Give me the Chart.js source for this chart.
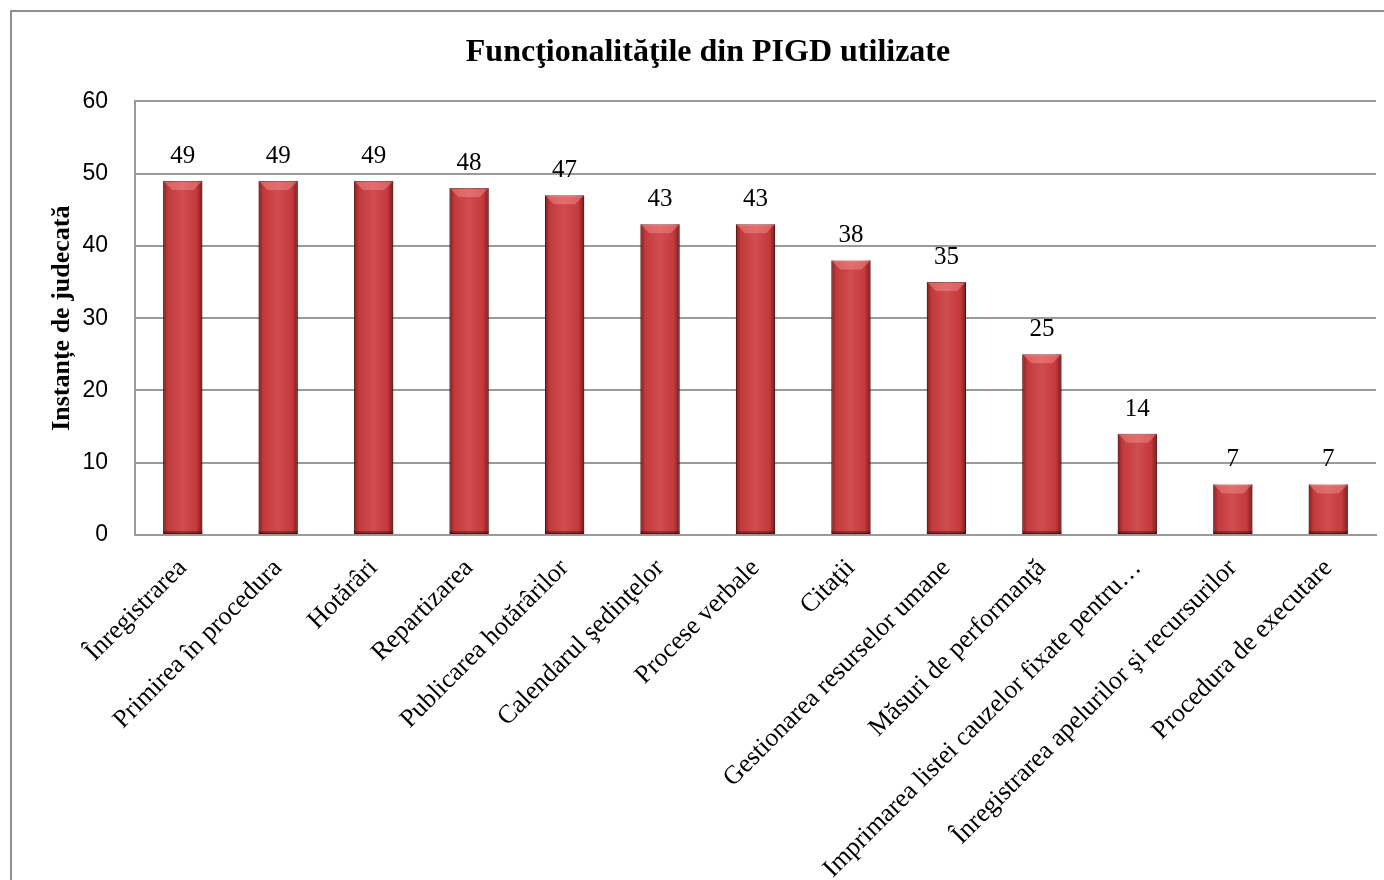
<!DOCTYPE html>
<html lang="ro">
<head>
<meta charset="UTF-8" />
<title>Funcţionalităţile din PIGD utilizate</title>
<style>
  html, body { margin: 0; padding: 0; background: #fff; overflow: hidden; }
  .wrap { position: relative; width: 1384px; height: 880px; }
  .frame {
    position: absolute; left: 10px; top: 10px;
    width: 1420px; height: 920px;
    border: 2px solid #8e8e8e;
  }
  canvas { position: absolute; left: 0; top: 0; }
</style>
</head>
<body>
<div class="wrap">
  <div class="frame"></div>
  <canvas id="chart" width="1384" height="880"></canvas>
</div>

<script src="https://cdn.jsdelivr.net/npm/chart.js"></script>
<script>
  // Data
  const chartTitle = 'Funcţionalităţile din PIGD utilizate';
  const axisTitle = 'Instanțe de judecată';
  const categories = [
    'Înregistrarea',
    'Primirea în procedura',
    'Hotărâri',
    'Repartizarea',
    'Publicarea hotărârilor',
    'Calendarul şedinţelor',
    'Procese verbale',
    'Citaţii',
    'Gestionarea resurselor umane',
    'Măsuri de performanţă',
    'Imprimarea listei cauzelor fixate pentru…',
    'Înregistrarea apelurilor şi recursurilor',
    'Procedura de executare'
  ];
  const counts = [49, 49, 49, 48, 47, 43, 43, 38, 35, 25, 14, 7, 7];
  const yTicks = [0, 10, 20, 30, 40, 50, 60];

  const serif = '"Liberation Serif", "Times New Roman", serif';
  const sans = '"Liberation Sans", Arial, sans-serif';

  // shading + bevel on top of each bar (uses the bar elements' own geometry)
  const barShade = {
    id: 'barShade',
    afterDatasetsDraw(chart) {
      const ctx = chart.ctx;
      chart.getDatasetMeta(0).data.forEach(bar => {
        const { x, y, base, width } = bar.getProps(['x', 'y', 'base', 'width'], true);
        const l = x - width / 2, r = x + width / 2;
        ctx.save();
        const g = ctx.createLinearGradient(l, 0, r, 0);
        g.addColorStop(0, 'rgba(70,5,5,0.55)');
        g.addColorStop(0.12, 'rgba(70,5,5,0.08)');
        g.addColorStop(0.5, 'rgba(255,255,255,0.08)');
        g.addColorStop(0.85, 'rgba(70,5,5,0.06)');
        g.addColorStop(1, 'rgba(70,5,5,0.6)');
        ctx.fillStyle = g;
        ctx.fillRect(l, y, width, base - y);
        // top bevel
        const b = 9;
        ctx.beginPath();
        ctx.moveTo(l, y);
        ctx.lineTo(r, y);
        ctx.lineTo(r - b, y + b);
        ctx.lineTo(l + b, y + b);
        ctx.closePath();
        ctx.fillStyle = 'rgba(255,160,160,0.4)';
        ctx.fill();
        // bottom edge
        ctx.fillStyle = 'rgba(60,5,5,0.4)';
        ctx.fillRect(l, base - 3, width, 3);
        ctx.restore();
      });
    }
  };

  // value labels above bars
  const valueLabels = {
    id: 'valueLabels',
    afterDatasetsDraw(chart) {
      const ctx = chart.ctx;
      ctx.save();
      ctx.font = '25px ' + serif;
      ctx.fillStyle = '#000';
      ctx.textAlign = 'center';
      ctx.textBaseline = 'alphabetic';
      chart.getDatasetMeta(0).data.forEach((bar, i) => {
        ctx.fillText(String(counts[i]), bar.x, bar.y - 18);
      });
      ctx.restore();
    }
  };

  new Chart(document.getElementById('chart'), {
    type: 'bar',
    data: {
      labels: categories,
      datasets: [{
        data: counts,
        backgroundColor: '#cd3e40',
        borderColor: '#6e1616',
        borderWidth: 1,
        borderSkipped: false,
        barPercentage: 0.41,
        categoryPercentage: 1
      }]
    },
    options: {
      responsive: false,
      animation: false,
      layout: { padding: { left: 40, right: 8, top: 0, bottom: 0 } },
      plugins: {
        legend: { display: false },
        tooltip: { enabled: false },
        title: {
          display: true,
          text: chartTitle,
          color: '#000',
          font: { family: serif, size: 32, weight: 'bold', lineHeight: 1.2 },
          padding: { top: 34, bottom: 29 }
        }
      },
      scales: {
        x: {
          grid: { display: false, drawTicks: false },
          border: { display: true, color: '#9a9a9a', width: 2 },
          ticks: {
            autoSkip: false,
            minRotation: 45,
            maxRotation: 45,
            padding: 18,
            color: '#000',
            font: { family: serif, size: 26 }
          },
          afterFit(scale) { scale.height = 345; }
        },
        y: {
          min: 0,
          max: 60,
          afterBuildTicks(scale) { scale.ticks = yTicks.map(v => ({ value: v })); },
          grid: { color: '#9a9a9a', lineWidth: 2, drawTicks: false },
          border: { display: true, color: '#9a9a9a', width: 2 },
          ticks: {
            padding: 27,
            color: '#000',
            font: { family: sans, size: 23 }
          },
          title: {
            display: true,
            text: axisTitle,
            color: '#000',
            font: { family: serif, size: 26, weight: 'bold', lineHeight: 1.2 },
            padding: { top: 7, bottom: 0 }
          },
          afterFit(scale) { scale.width = 95; }
        }
      }
    },
    plugins: [barShade, valueLabels]
  });
</script>
</body>
</html>
